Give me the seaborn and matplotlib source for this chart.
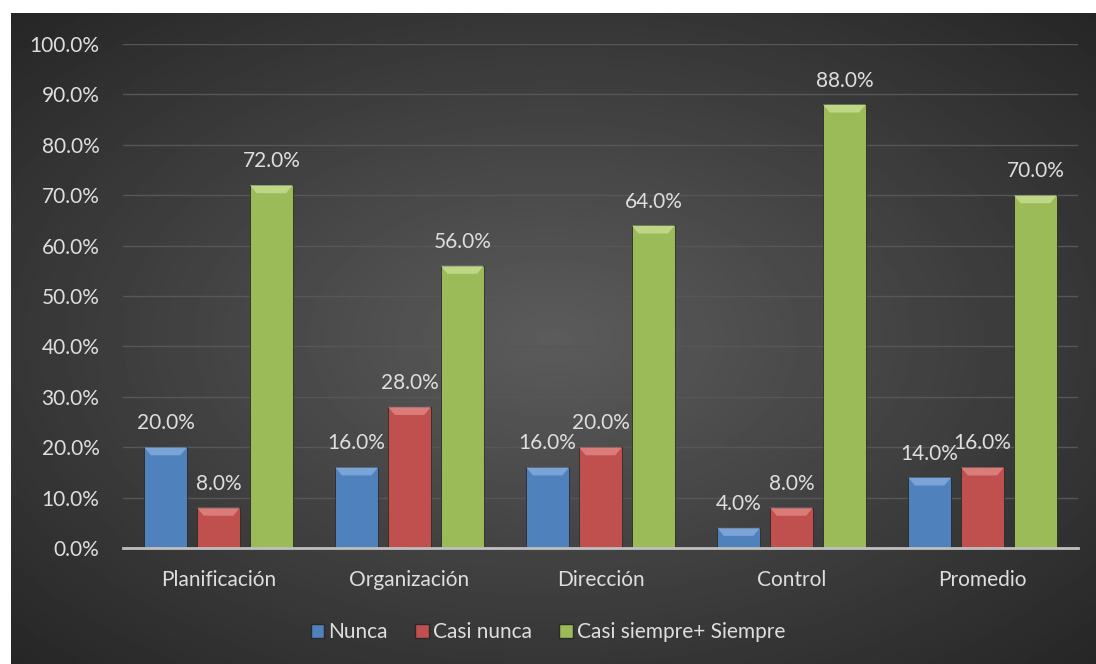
import numpy as np
import pandas as pd
import matplotlib
matplotlib.use("Agg")
import matplotlib.pyplot as plt
from matplotlib.patches import Polygon, Patch
import seaborn as sns

# ====================================
# DATA
# ====================================

categorias = ["Planificación", "Organización", "Dirección", "Control", "Promedio"]
series = ["Nunca", "Casi nunca", "Casi siempre+ Siempre"]
nunca = [0.20, 0.16, 0.16, 0.04, 0.14]
casi_nunca = [0.08, 0.28, 0.20, 0.08, 0.16]
casi_siempre = [0.72, 0.56, 0.64, 0.88, 0.70]

colores = ["#4f81bd", "#c0504d", "#9bbb59"]
claros = ["#8db3e2", "#e6908d", "#cde39a"]
texto = "#dedede"

df = pd.DataFrame({
    "categoria": categorias * 3,
    "serie": [s for s in series for _ in categorias],
    "valor": nunca + casi_nunca + casi_siempre,
})

# ====================================
# FIGURE + BACKGROUND
# ====================================

sns.set_style("dark")
plt.rcParams["font.family"] = ["Lato", "DejaVu Sans"]

fig = plt.figure(figsize=(10.96, 6.64), dpi=100)
fig.patch.set_facecolor("white")

# radial gradient panel (lighter centre, darker edges)
bg = fig.add_axes([11 / 1096, 0, 1 - 11 / 1096, 1 - 13 / 664])
yy, xx = np.mgrid[-1:1:300j, -1:1:500j]
r = np.sqrt(xx ** 2 + yy ** 2) / np.sqrt(2)
bg.imshow(0.36 - 0.21 * r, cmap="gray", vmin=0, vmax=1, aspect="auto",
          extent=[0, 1, 0, 1])
bg.set_axis_off()

ax = fig.add_axes([123 / 1096, 1 - 548 / 664, (1078 - 123) / 1096, (548 - 44) / 664])
ax.set_facecolor("none")

sns.barplot(data=df, x="categoria", y="valor", hue="serie",
            palette=colores, width=0.83, gap=0.19, ax=ax,
            legend=False, saturation=1, zorder=3)

# bevel on top of each bar
for i, cont in enumerate(ax.containers):
    for bar in cont:
        x0, w, h = bar.get_x(), bar.get_width(), bar.get_height()
        bar.set_edgecolor("#2a2a2a")
        bar.set_linewidth(0.6)
        ins, bh = 0.035, 0.016
        if h > bh:
            ax.add_patch(Polygon([(x0, h), (x0 + w, h), (x0 + w - ins, h - bh),
                                  (x0 + ins, h - bh)], closed=True,
                                 facecolor=claros[i], edgecolor="none",
                                 alpha=0.7, zorder=4))
    ax.bar_label(cont, labels=[f"{v * 100:.1f}%" for v in cont.datavalues],
                 padding=10, color=texto, fontsize=15, zorder=5)

ax.set_xlim(-0.5, 4.5)
ax.set_ylim(0, 1.0)
ax.set_yticks(np.arange(0, 1.01, 0.1))
ax.set_yticklabels([f"{t * 100:.1f}%" for t in np.arange(0, 1.01, 0.1)])
ax.grid(axis="y", color="#575757", linewidth=1, zorder=0)
ax.grid(axis="x", visible=False)
ax.set_axisbelow(True)
ax.set_xlabel("")
ax.set_ylabel("")
ax.tick_params(axis="both", colors=texto, labelsize=15, length=0)
ax.tick_params(axis="x", pad=16)
ax.tick_params(axis="y", pad=17)
for s in ["top", "right", "left"]:
    ax.spines[s].set_visible(False)
ax.spines["bottom"].set_color("#bfbfbf")
ax.spines["bottom"].set_linewidth(2)
ax.spines["bottom"].set_zorder(6)

handles = [Patch(facecolor=c, edgecolor="#2a2a2a", label=s) for c, s in zip(colores, series)]
fig.legend(handles=handles, loc="center", bbox_to_anchor=(0.5, 1 - 632 / 664),
           ncol=3, frameon=False, fontsize=15, labelcolor=texto,
           handlelength=0.65, handleheight=0.65, handletextpad=0.2,
           columnspacing=1.3)

fig.savefig("out.png", dpi=100, facecolor=fig.get_facecolor())
